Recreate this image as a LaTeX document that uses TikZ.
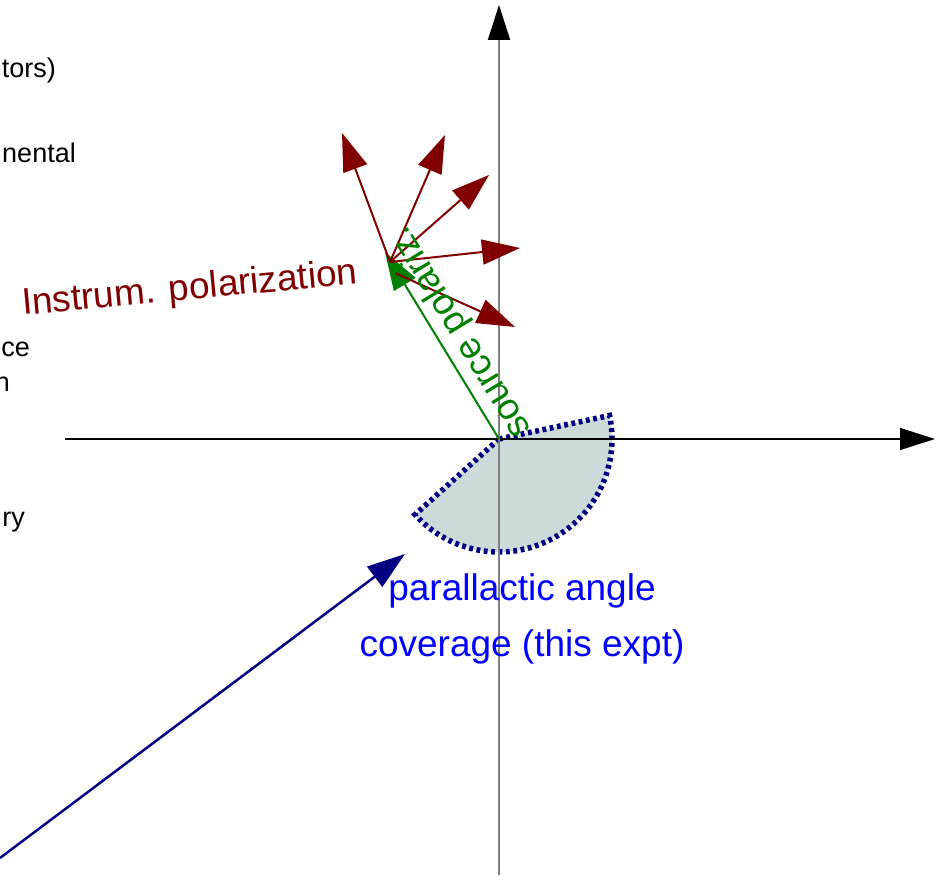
\documentclass[tikz,border=0pt]{standalone}
\usepackage{fontspec}
\setmainfont{Liberation Sans}
\usepackage{tikz}
\usetikzlibrary{arrows.meta}
\definecolor{PolRed}{RGB}{128, 0, 0}
\definecolor{PolGreen}{RGB}{0, 128, 0}
\definecolor{CovNavy}{RGB}{0, 0, 128}
\definecolor{CovBlue}{RGB}{0, 0, 255}
\definecolor{CovFill}{RGB}{204, 218, 218}
\definecolor{AxisGrey}{RGB}{128, 128, 128}

\begin{document}
\begin{tikzpicture}[
    x=1pt, y=1pt,
    axis/.style={line width=1.3pt, -{Triangle[length=35pt, width=22pt, color=black]}},
    vec/.style={line width=2pt, -{Triangle[length=38pt, width=25pt]}},
    big/.style={font=\fontsize{37}{44}\selectfont, inner sep=0pt},
    side/.style={font=\fontsize{27}{32}\selectfont, inner sep=0pt, anchor=base east}
  ]
  \useasboundingbox (0,0) rectangle (947,893);
  \coordinate (O) at (499,454);
  \coordinate (xl) at (65,454);
  \coordinate (xr) at (935,454);
  \coordinate (yb) at (499,18);
  \coordinate (yt) at (499,888);
  \coordinate (gtip) at (385,641);
  \coordinate (rb) at (390,631);
  \coordinate (r1) at (342,760);
  \coordinate (r2) at (445,758);
  \coordinate (r3) at (489,718);
  \coordinate (r4) at (520,645);
  \coordinate (rb5) at (395,620);
  \coordinate (r5) at (515,566);
  \coordinate (nstart) at (0,35);
  \coordinate (ntip) at (405,339);

  \filldraw[fill=CovFill, draw=CovNavy, line width=5.5pt, dash pattern=on 3.8pt off 3.6pt]
    (O) -- ++(-138:113) arc[start angle=-138, end angle=12, radius=113] -- cycle;

  \draw[axis] (xl) -- (xr);
  \draw[axis, AxisGrey, line width=2pt] (yb) -- (yt);

  \draw[vec, PolGreen] (O) -- (gtip);
  \draw[vec, PolRed] (rb) -- (r1);
  \draw[vec, PolRed] (rb) -- (r2);
  \draw[vec, PolRed] (rb) -- (r3);
  \draw[vec, PolRed] (rb) -- (r4);
  \draw[vec, PolRed] (rb5) -- (r5);
  \draw[vec, CovNavy, line width=2.5pt] (nstart) -- (ntip);

  \node[big, PolRed, rotate=5.3, anchor=base west] (instlbl) at (23,578) {Instrum. polarization};
  \node[big, PolGreen, rotate=121.4] (srclbl) at (461,561) {source polariz.};
  \node[big, CovBlue, anchor=base] (cov1) at (522,292) {parallactic angle};
  \node[big, CovBlue, anchor=base] (cov2) at (522,236) {coverage (this expt)};

  \node[side] (t1) at (56,815) {tors)};
  \node[side] (t2) at (76,730) {nental};
  \node[side] (t3) at (30,536) {ce};
  \node[side] (t4) at (10,501) {n};
  \node[side] (t5) at (25,366) {ry};
\end{tikzpicture}
\end{document}
